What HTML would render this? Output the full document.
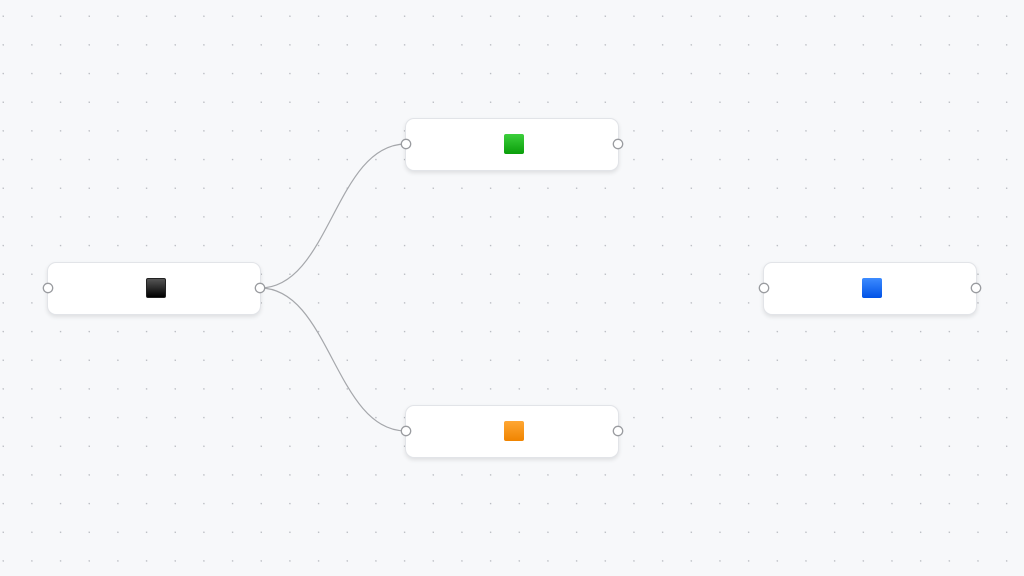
<!DOCTYPE html>
<html><head><style>
body{margin:0;width:1024px;height:576px;overflow:hidden;background:#f7f8fa;position:relative;font-family:"Liberation Sans",sans-serif}
.bg{position:absolute;inset:0}
.n{position:absolute;width:214px;height:53px;background:#fff;border:1px solid #e2e4e8;border-radius:9px;box-shadow:0 2px 4px rgba(0,0,0,0.1);box-sizing:border-box}
.sq{position:absolute;left:98px;top:15px;width:20px;height:20px;border-radius:2px}
</style></head><body>
<svg class="bg" width="1024" height="576">
<defs><pattern id="d" x="2.5" y="15.5" width="28.67" height="28.67" patternUnits="userSpaceOnUse"><circle cx="0.7" cy="0.7" r="0.75" fill="#b4b7bd"/></pattern></defs>
<rect width="1024" height="576" fill="url(#d)"/>
</svg>
<div class="n" style="left:47px;top:262px"><div class="sq" style="background:linear-gradient(#555,#000);border:1px solid #222;box-sizing:border-box"></div></div>
<div class="n" style="left:405px;top:118px"><div class="sq" style="background:linear-gradient(#3ccf3c,#0a9e0a)"></div></div>
<div class="n" style="left:405px;top:405px"><div class="sq" style="background:linear-gradient(#ffa733,#f08400)"></div></div>
<div class="n" style="left:763px;top:262px"><div class="sq" style="background:linear-gradient(#3d8bff,#0052e6)"></div></div>
<svg class="bg" width="1024" height="576">
<g fill="none" stroke="#a5a7ab" stroke-width="1.2">
<path d="M260 288 C330 288,335 144,406 144"/>
<path d="M260 288 C330 288,335 431,406 431"/>
</g>
<g fill="#fff" stroke="#9a9ca0" stroke-width="1.3">
<circle cx="48" cy="288" r="4.7"/><circle cx="260" cy="288" r="4.7"/>
<circle cx="406" cy="144" r="4.7"/><circle cx="618" cy="144" r="4.7"/>
<circle cx="406" cy="431" r="4.7"/><circle cx="618" cy="431" r="4.7"/>
<circle cx="764" cy="288" r="4.7"/><circle cx="976" cy="288" r="4.7"/>
</g>
</svg>
</body></html>
